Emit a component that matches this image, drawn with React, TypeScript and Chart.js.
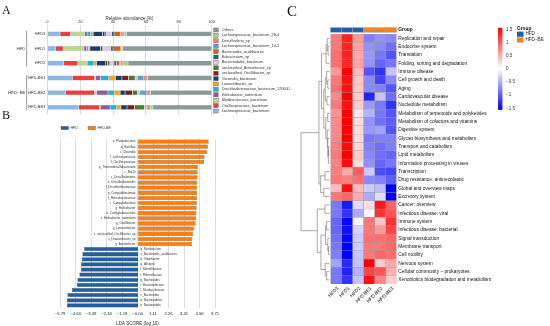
import React, { useEffect, useRef } from "react";
import { Chart, registerables } from "chart.js";

Chart.register(...registerables);

const FONT = '"Liberation Sans", Arial, Helvetica, sans-serif';

// ---------------- Panel A: relative abundance ----------------
const sampleLabelsA = ["HFD3", "HFD1", "HFD2", "HFD-BE1", "HFD-BE2", "HFD-BE3"];
const groupNamesA = ["HFD", "HFD\u2212BE"];
const sampleGroupA = [0, 0, 0, 1, 1, 1];
const abundanceTicks = [0, 20, 40, 60, 80, 100];

// stacking order (left to right); legend shows it reversed
const taxaNamesA = [
  "Lachnospiraceae_bacterium",
  "Oscillospiraceae_bacterium",
  "Muribaculaceae_bacterium",
  "Helicobacter_rodentium",
  "Desulfovibrionaceae_bacterium_170000",
  "Lawsonibacter_sp",
  "Clostridia_bacterium",
  "unclassified_Oscillibacter_sp",
  "unclassified_Acetatifactor_sp",
  "Bacteroidales_bacterium",
  "Eubacterium_sp",
  "Bacteroides_acidifaciens",
  "Lachnospiraceae_bacterium_10-1",
  "Desulfovibrio_sp",
  "Lachnospiraceae_bacterium_28-4",
  "Others",
];
const taxaColorsA = [
  "#8ab8e6", "#e8413c", "#b6d98c", "#8c5aa6", "#1fb3d2", "#f7a02c", "#1b3c6e", "#7c1c22",
  "#4b7a2a", "#d9c9e6", "#176b76", "#d65f17", "#5f9fd6", "#f0827a", "#a8d17c", "#8a9a9a",
];
const abLachnospiraceae = [7.7, 5.0, 10.0, 15.2, 11.0, 19.0];
const abOscillospiraceae = [6.5, 4.7, 8.5, 13.6, 17.7, 12.8];
const abMuribaculaceae = [8.5, 12.6, 5.3, 0.6, 1.2, 0.5];
const abHelicobacter = [1.5, 1.6, 0.8, 3.0, 7.0, 5.9];
const abDesulfovibrionaceae = [2.2, 1.0, 3.7, 5.0, 3.7, 4.0];
const abLawsonibacter = [1.5, 1.0, 1.6, 4.0, 3.7, 2.6];
const abClostridia = [5.7, 6.5, 5.7, 4.0, 3.0, 3.7];
const abOscillibacter = [1.4, 1.0, 1.0, 4.0, 4.5, 4.5];
const abAcetatifactor = [1.0, 0.5, 1.4, 4.0, 3.0, 6.0];
const abBacteroidales = [3.2, 4.7, 2.6, 0.3, 0.3, 0.4];
const abEubacterium = [1.4, 1.4, 1.4, 0.5, 0.5, 0.3];
const abAcidifaciens = [4.0, 4.7, 2.0, 0.5, 0.5, 0.5];
const abLachno101 = [0.8, 0.3, 0.5, 4.0, 4.5, 0.4];
const abDesulfovibrio = [1.2, 0.3, 1.4, 2.0, 2.0, 2.0];
const abLachno284 = [1.5, 0.5, 3.2, 0.3, 0.3, 1.6];
const abOthers = [51.9, 54.2, 50.9, 39.0, 37.1, 35.8];
const abundanceA = [
  abLachnospiraceae, abOscillospiraceae, abMuribaculaceae, abHelicobacter, abDesulfovibrionaceae,
  abLawsonibacter, abClostridia, abOscillibacter, abAcetatifactor, abBacteroidales, abEubacterium,
  abAcidifaciens, abLachno101, abDesulfovibrio, abLachno284, abOthers,
];

// ---------------- Panel B: LDA scores ----------------
const ldaLabelsBE = [
  "p_Proteobacteria", "p_Bacillota", "c_Clostridia", "f_Lachnospiraceae", "f_Oscillospiraceae",
  "p_Thermodesulfobacteriota", "c_Bacilli", "c_Desulfovibrionia", "o_Desulfovibrionales",
  "f_Desulfovibrionaceae", "p_Campylobacterota", "f_Helicobacteraceae", "c_Campylobacteria",
  "g_Helicobacter", "o_Campylobacterales", "s_Helicobacter_rodentium", "g_Oscillibacter",
  "g_Lawsonibacter", "s_unclassified_Oscillibacter_sp", "s_Lawsonibacter_sp", "g_Acetatifactor",
];
const ldaValuesBE = [5.24, 5.18, 5.13, 4.93, 4.9, 4.44, 4.42, 4.41, 4.4, 4.39, 4.38, 4.37, 4.36, 4.35, 4.33, 4.31, 4.27, 4.15, 4.08, 4.03, 4.0];
const ldaLabelsHFD = [
  "g_Muribaculum", "s_Bacteroides_acidifaciens", "g_Odoribacter", "g_Alistipes", "f_Marinifilaceae",
  "f_Rikenellaceae", "g_Bacteroides", "f_Bacteroidaceae", "f_Muribaculaceae", "c_Bacteroidia",
  "o_Bacteroidales", "p_Bacteroidota",
];
const ldaValuesHFD = [-4.0, -4.13, -4.18, -4.23, -4.25, -4.35, -4.5, -4.55, -4.9, -5.24, -5.29, -5.29];
const ldaTicks = [-5.79, -4.64, -3.49, -2.34, -1.19, -0.04, 1.11, 2.26, 3.41, 4.56, 5.71];
const ldaGroupNames = ["HFD", "HFD-BE"];

// ---------------- Panel C: KEGG heatmap ----------------
const pathwayLabels = [
  "Replication and repair", "Endocrine system", "Translation", "Folding, sorting and degradation",
  "Immune disease", "Cell growth and death", "Aging", "Cardiovascular disease", "Nucleotide metabolism",
  "Metabolism of terpenoids and polyketides", "Metabolism of cofactors and vitamins", "Digestive system",
  "Glycan biosynthesis and metabolism", "Transport and catabolism", "Lipid metabolism",
  "Information processing in viruses", "Transcription", "Drug resistance: antineoplastic",
  "Global and overview maps", "Excretory system", "Cancer: overview", "Infectious disease: viral",
  "Immune system", "Infectious disease: bacterial", "Signal transduction", "Membrane transport",
  "Cell motility", "Nervous system", "Cellular community \u2013 prokaryotes",
  "Xenobiotics biodegradation and metabolism",
];
const heatSamples = ["HFD3", "HFD1", "HFD2", "HFD-BE1", "HFD-BE2", "HFD-BE3"];
const heatSampleGroup = [0, 0, 0, 1, 1, 1];
const heatGroupNames = ["HFD", "HFD\u2212BE"];
const zHFD3 = [0.8, 0.8, 0.85, 0.85, 0.6, 0.8, 0.85, 0.7, 0.8, 0.65, 0.7, 0.7, 0.7, 0.75, 0.8, 0.75, 0.75, 0.8, 0.4, 0.8, -0.8, -0.8, -0.9, -0.9, -0.85, -0.8, -0.75, -0.55, -0.8, -0.8];
const zHFD1 = [1.3, 1.3, 1.3, 1.25, 1.5, 1.4, 1.4, 1.5, 1.4, 1.5, 1.5, 1.5, 1.5, 1.45, 1.5, 1.45, 0.5, 0.75, 1.4, 0.9, -1.35, -1.2, -1.45, -1.4, -1.45, -1.5, -1.5, -1.25, -1.3, -1.2];
const zHFD2 = [0.6, 0.55, 0.5, 0.55, 0.4, 0.35, 0.35, 0.3, 0.3, 0.15, 0.2, 0.2, 0.2, 0.25, 0.3, 0.2, 0.95, 0.85, 0.4, 0.5, -0.2, -0.5, -0.05, -0.25, -0.3, -0.3, -0.35, -0.35, -0.45, -0.35];
const zBE1 = [-0.75, -0.65, -0.6, -0.65, -1.0, -0.7, -0.7, -1.3, -0.6, -0.45, -0.65, -0.6, -0.8, -0.75, -0.7, -0.65, -0.3, -0.7, -0.3, -0.5, 0.2, 0.05, 0.8, 0.8, 0.85, 0.8, 0.8, 1.5, 1.1, 1.4];
const zBE2 = [-0.65, -0.7, -0.8, -0.9, -1.2, -1.1, -0.75, -0.35, -0.8, -0.8, -0.85, -0.55, -0.75, -0.85, -0.85, -0.9, -1.05, -0.75, -0.4, -0.2, 1.35, 1.2, 0.35, 0.6, 0.85, 0.8, 0.9, 0.3, 1.0, 0.7];
const zBE3 = [-0.7, -0.85, -1.0, -0.8, -0.35, -0.7, -1.0, -0.85, -1.2, -1.0, -0.95, -1.0, -0.75, -0.75, -0.9, -0.8, -1.1, -0.95, -1.5, -1.5, 0.9, 1.0, 1.2, 1.1, 0.9, 0.9, 0.85, 0.5, 0.45, 0.3];
const heatColumns = [zHFD3, zHFD1, zHFD2, zBE1, zBE2, zBE3];
const colorbarTicks = [1.5, 1, 0.5, 0, -0.5, -1, -1.5];
// row dendrogram: [height, left, right]; leaves are row indices
const rowTree: any = [1.0,
  [0.37,
    [0.28,
      [0.12, [0.08, 0, [0.05, 1, 2]], 3],
      [0.2,
        [0.15, [0.1, 4, [0.06, 5, 6]], [0.09, 7, 8]],
        [0.13, [0.06, 9, 10], [0.08, 11, [0.06, 12, [0.04, [0.03, 13, 14], 15]]]]]],
    [0.31, [0.16, 16, 17], [0.2, 18, 19]]],
  [0.43,
    [0.16, 20, 21],
    [0.3,
      [0.14, [0.1, 22, 23], [0.06, 24, [0.03, 25, 26]]],
      [0.15, 27, [0.1, 28, 29]]]]];

const GROUP_COLORS = ["#1d5fa8", "#f5821f"];

function fmtMinus(v: number, digits?: number) {
  const s = digits === undefined ? String(Math.abs(v)) : Math.abs(v).toFixed(digits);
  return (v < 0 ? "\u2212" : "") + s;
}

function heatColor(v: number) {
  const t = Math.max(-1, Math.min(1, v / 1.5));
  if (t >= 0) {
    const c = Math.round(255 * (1 - t));
    return `rgb(255,${c},${c})`;
  }
  const c = Math.round(255 * (1 + t));
  return `rgb(${c},${c},255)`;
}

// ---------- plugins ----------
const panelAPlugin = {
  id: "panelA",
  afterDraw(chart: any) {
    const { ctx, chartArea, scales } = chart;
    const ys = scales.y;
    ctx.save();
    ctx.fillStyle = "#333";
    ctx.strokeStyle = "#555";
    ctx.lineWidth = 0.6;
    ctx.font = `4px ${FONT}`;
    ctx.textBaseline = "middle";
    ctx.textAlign = "right";
    const labelRight = chartArea.left - 2;
    sampleLabelsA.forEach((s, i) => ctx.fillText(s, labelRight, ys.getPixelForValue(i)));
    const maxW = Math.max(...sampleLabelsA.map((s) => ctx.measureText(s).width));
    const bx = labelRight - maxW - 1.5;
    ctx.font = `4.4px ${FONT}`;
    groupNamesA.forEach((g, gi) => {
      const idx = sampleGroupA.map((v, i) => (v === gi ? i : -1)).filter((i) => i >= 0);
      const y0 = ys.getPixelForValue(idx[0]) - 3;
      const y1 = ys.getPixelForValue(idx[idx.length - 1]) + 3;
      ctx.beginPath();
      ctx.moveTo(bx, y0);
      ctx.lineTo(bx, y1);
      ctx.stroke();
      ctx.fillText(g, bx - 1.2, (y0 + y1) / 2);
    });
    // legend (reverse of stacking order)
    ctx.textAlign = "left";
    ctx.font = `3.8px ${FONT}`;
    const lx = chartArea.right + 2;
    const n = taxaNamesA.length;
    for (let k = 0; k < n; k++) {
      const i = n - 1 - k;
      const cy = chartArea.top + 3.5 + k * 5.4;
      ctx.fillStyle = taxaColorsA[i];
      ctx.fillRect(lx, cy - 2, 4.5, 4);
      ctx.strokeStyle = "#555";
      ctx.lineWidth = 0.4;
      ctx.strokeRect(lx, cy - 2, 4.5, 4);
      ctx.fillStyle = "#333";
      ctx.fillText(taxaNamesA[i], lx + 8, cy);
    }
    ctx.restore();
  },
};

const panelBPlugin = {
  id: "panelB",
  afterDraw(chart: any) {
    const { ctx, chartArea, scales } = chart;
    const xs = scales.x;
    const ys = scales.y;
    const x0 = xs.getPixelForValue(0);
    ctx.save();
    ctx.fillStyle = "#333";
    ctx.textBaseline = "middle";
    ctx.font = `3px ${FONT}`;
    ctx.textAlign = "right";
    ldaLabelsBE.forEach((lab, i) => ctx.fillText(lab, x0 - 2.5, ys.getPixelForValue(i)));
    ctx.textAlign = "left";
    ldaLabelsHFD.forEach((lab, j) =>
      ctx.fillText(lab, x0 + 2.5, ys.getPixelForValue(ldaLabelsBE.length + j))
    );
    // legend
    ctx.font = `3.6px ${FONT}`;
    const ly = chartArea.top - 11;
    let lx = chartArea.left + 1;
    chart.data.datasets.forEach((ds: any) => {
      ctx.fillStyle = ds.backgroundColor;
      ctx.fillRect(lx, ly - 1.6, 7.5, 3.2);
      ctx.strokeStyle = "#555";
      ctx.lineWidth = 0.4;
      ctx.strokeRect(lx, ly - 1.6, 7.5, 3.2);
      ctx.fillStyle = "#333";
      ctx.fillText(ds.label, lx + 9.5, ly);
      lx += 27;
    });
    ctx.restore();
  },
};

function drawTree(node: any, ctx: any, yOf: (i: number) => number, xOf: (h: number) => number): any {
  if (typeof node === "number") return { x: xOf(0), y: yOf(node) };
  const [h, a, b] = node;
  const A = drawTree(a, ctx, yOf, xOf);
  const B = drawTree(b, ctx, yOf, xOf);
  const x = xOf(h);
  ctx.moveTo(A.x, A.y);
  ctx.lineTo(x, A.y);
  ctx.lineTo(x, B.y);
  ctx.lineTo(B.x, B.y);
  return { x, y: (A.y + B.y) / 2 };
}

const panelCPlugin = {
  id: "panelC",
  afterDraw(chart: any) {
    const { ctx, chartArea, scales } = chart;
    const xs = scales.x;
    const ys = scales.y;
    ctx.save();
    // group annotation bar
    const gTop = chartArea.top - 6.4;
    const gH = 4.5;
    heatSamples.forEach((s, j) => {
      const x0 = xs.getPixelForValue(j);
      const x1 = xs.getPixelForValue(j + 1);
      ctx.fillStyle = GROUP_COLORS[heatSampleGroup[j]];
      ctx.fillRect(x0, gTop, x1 - x0, gH);
      ctx.strokeStyle = "#9a9a9a";
      ctx.lineWidth = 0.5;
      ctx.strokeRect(x0, gTop, x1 - x0, gH);
    });
    ctx.fillStyle = "#111";
    ctx.textBaseline = "middle";
    ctx.textAlign = "left";
    ctx.font = `bold 4.8px ${FONT}`;
    ctx.fillText("Group", chartArea.right + 1.8, gTop + gH / 2);
    // row labels
    ctx.font = `4.8px ${FONT}`;
    pathwayLabels.forEach((lab, i) => ctx.fillText(lab, chartArea.right + 1.8, ys.getPixelForValue(i)));
    // column labels
    heatSamples.forEach((s, j) => {
      const cx = xs.getPixelForValue(j + 0.5);
      ctx.save();
      ctx.translate(cx + 2, chartArea.bottom + 3.5);
      ctx.rotate(-Math.PI / 4);
      ctx.textAlign = "right";
      ctx.fillText(s, 0, 0);
      ctx.restore();
    });
    // dendrogram
    const leafX = chartArea.left - 1;
    const rootX = 21;
    ctx.beginPath();
    drawTree(rowTree, ctx, (i) => ys.getPixelForValue(i), (h) => leafX - h * (leafX - rootX));
    ctx.strokeStyle = "#6e6e6e";
    ctx.lineWidth = 0.6;
    ctx.stroke();
    // colour bar
    const cbX = 218;
    const vy = (v: number) => 68.8 - v * 26.33;
    const top = vy(1.56);
    const bot = vy(-1.56);
    const grad = ctx.createLinearGradient(0, top, 0, bot);
    grad.addColorStop(0, heatColor(1.56));
    grad.addColorStop(0.5, "#ffffff");
    grad.addColorStop(1, heatColor(-1.56));
    ctx.fillStyle = grad;
    ctx.fillRect(cbX, top, 4.4, bot - top);
    ctx.fillStyle = "#333";
    ctx.font = `4.5px ${FONT}`;
    colorbarTicks.forEach((t) => ctx.fillText(fmtMinus(t), cbX + 8, vy(t)));
    // group legend
    const gx = 237;
    ctx.fillStyle = "#111";
    ctx.font = `bold 4.8px ${FONT}`;
    ctx.fillText("Group", gx, 29);
    ctx.font = `4.6px ${FONT}`;
    heatGroupNames.forEach((g, k) => {
      const y = 31.6 + k * 5.8;
      ctx.fillStyle = GROUP_COLORS[k];
      ctx.fillRect(gx, y, 6.5, 5.2);
      ctx.fillStyle = "#222";
      ctx.fillText(g, gx + 8.5, y + 2.6);
    });
    ctx.restore();
  },
};

// ---------- chart builders ----------
function makeA(canvas: HTMLCanvasElement) {
  return new Chart(canvas, {
    type: "bar",
    data: {
      labels: sampleLabelsA,
      datasets: taxaNamesA.map((name, i) => ({
        label: name,
        data: abundanceA[i],
        backgroundColor: taxaColorsA[i],
        borderColor: "rgba(70,70,70,0.5)",
        borderWidth: 0.3,
        borderSkipped: false,
        barPercentage: 0.33,
        categoryPercentage: 1,
      })),
    },
    options: {
      indexAxis: "y",
      animation: false,
      responsive: false,
      events: [],
      layout: { padding: { left: 47.3, right: 78.3, top: 16.5, bottom: 7.3 } },
      scales: {
        x: {
          position: "top",
          stacked: true,
          min: 0,
          max: 100,
          afterBuildTicks: (s: any) => {
            s.ticks = abundanceTicks.map((v) => ({ value: v }));
          },
          afterFit: (s: any) => {
            s.height = 10;
          },
          grid: { color: "#c4c4c4", lineWidth: 0.6, drawTicks: true, tickLength: 1.5 },
          border: { display: false },
          ticks: { font: { size: 4 }, color: "#333", padding: 0.5, maxRotation: 0 },
          title: { display: true, text: "Relative abundance (%)", font: { size: 4.5 }, color: "#333", padding: 0 },
        },
        y: { stacked: true, display: false, offset: true },
      },
      plugins: { legend: { display: false }, tooltip: { enabled: false } },
    } as any,
    plugins: [panelAPlugin],
  });
}

function makeB(canvas: HTMLCanvasElement) {
  const labels = [...ldaLabelsBE, ...ldaLabelsHFD];
  const hfdData = [...ldaLabelsBE.map(() => null), ...ldaValuesHFD];
  const beData = [...ldaValuesBE, ...ldaLabelsHFD.map(() => null)];
  return new Chart(canvas, {
    type: "bar",
    data: {
      labels,
      datasets: [
        {
          label: ldaGroupNames[0], data: hfdData, backgroundColor: "#1f5fa5", borderColor: "#4a4a4a",
          borderWidth: 0.5, grouped: false, barPercentage: 0.84, categoryPercentage: 1,
        },
        {
          label: ldaGroupNames[1], data: beData, backgroundColor: "#ff7f0e", borderColor: "#4a4a4a",
          borderWidth: 0.5, grouped: false, barPercentage: 0.84, categoryPercentage: 1,
        },
      ],
    },
    options: {
      indexAxis: "y",
      animation: false,
      responsive: false,
      events: [],
      layout: { padding: { left: 60, right: 75, top: 21, bottom: 0 } },
      scales: {
        x: {
          min: ldaTicks[0],
          max: ldaTicks[ldaTicks.length - 1],
          afterBuildTicks: (s: any) => {
            s.ticks = ldaTicks.map((v) => ({ value: v }));
          },
          afterFit: (s: any) => {
            s.height = 18;
          },
          grid: { color: "#cfcfcf", lineWidth: 0.7, drawTicks: false },
          border: { display: false },
          ticks: {
            font: { size: 4.2 }, color: "#222", padding: 3, maxRotation: 0, autoSkip: false,
            callback: (v: any) => fmtMinus(Number(v), 2),
          },
          title: { display: true, text: "LDA SCORE (log 10)", font: { size: 4.5 }, color: "#222", padding: 0 },
        },
        y: { display: false, offset: true },
      },
      plugins: { legend: { display: false }, tooltip: { enabled: false } },
    } as any,
    plugins: [panelBPlugin],
  });
}

function makeC(canvas: HTMLCanvasElement) {
  return new Chart(canvas, {
    type: "bar",
    data: {
      labels: pathwayLabels,
      datasets: heatSamples.map((s, j) => ({
        label: s,
        data: pathwayLabels.map(() => 1),
        backgroundColor: heatColumns[j].map(heatColor),
        borderColor: "#9a9a9a",
        borderWidth: 0.4,
        borderSkipped: false,
        barPercentage: 1,
        categoryPercentage: 1,
      })),
    },
    options: {
      indexAxis: "y",
      animation: false,
      responsive: false,
      events: [],
      layout: { padding: { left: 50.5, right: 153.5, top: 34.1, bottom: 41.9 } },
      scales: {
        x: { stacked: true, display: false, min: 0, max: heatSamples.length },
        y: { stacked: true, display: false, offset: true },
      },
      plugins: { legend: { display: false }, tooltip: { enabled: false } },
    } as any,
    plugins: [panelCPlugin],
  });
}

export default function App() {
  const refA = useRef<HTMLCanvasElement>(null);
  const refB = useRef<HTMLCanvasElement>(null);
  const refC = useRef<HTMLCanvasElement>(null);

  useEffect(() => {
    Chart.defaults.font.family = FONT;
    const charts = [makeA(refA.current!), makeB(refB.current!), makeC(refC.current!)];
    return () => charts.forEach((c) => c.destroy());
  }, []);

  const panelLabel = (text: string, left: number, top: number, size: number) => (
    <div
      style={{
        position: "absolute", left, top, fontFamily: '"Liberation Serif", "Times New Roman", serif',
        fontSize: size, lineHeight: `${size}px`, color: "#111",
      }}
    >
      {text}
    </div>
  );

  return (
    <div style={{ position: "absolute", left: 0, top: 0, width: 550, height: 326, background: "#fff", overflow: "hidden" }}>
      <canvas ref={refA} width={290} height={122} style={{ position: "absolute", left: 0, top: 0, width: 290, height: 122 }} />
      <canvas ref={refB} width={290} height={208} style={{ position: "absolute", left: 0, top: 118, width: 290, height: 208 }} />
      <canvas ref={refC} width={270} height={326} style={{ position: "absolute", left: 280, top: 0, width: 270, height: 326 }} />
      {panelLabel("A", 2, 4, 12)}
      {panelLabel("B", 2, 109, 12)}
      {panelLabel("C", 287, 4, 15)}
    </div>
  );
}
